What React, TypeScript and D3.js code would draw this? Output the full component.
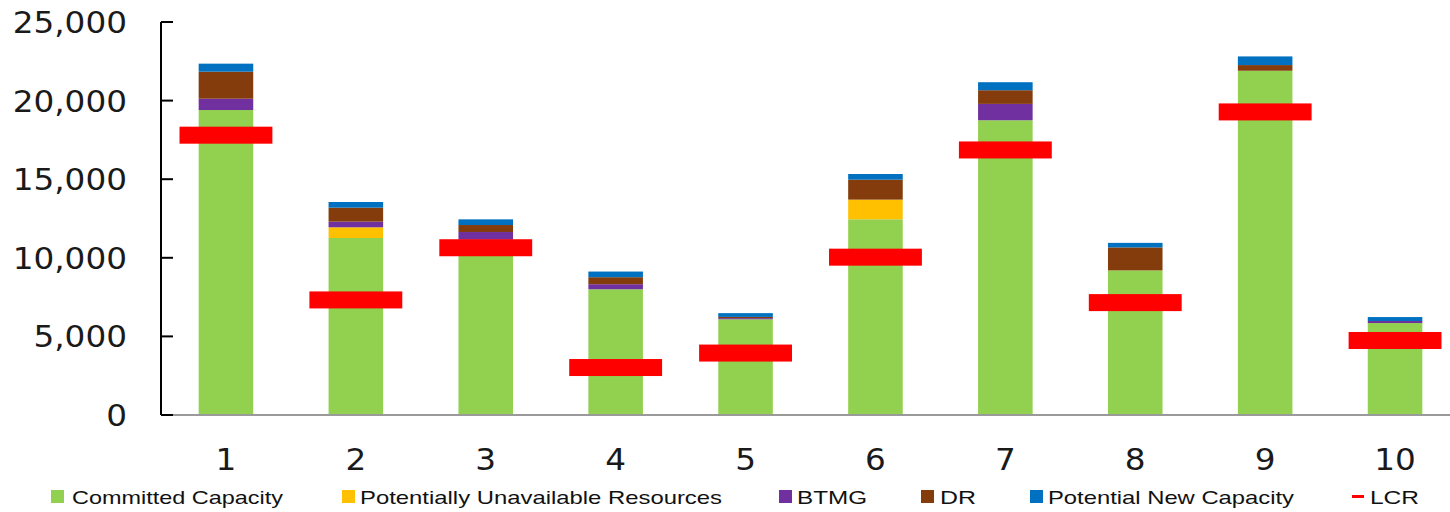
import React from "react";
import * as d3 from "d3";

const categories = ["1", "2", "3", "4", "5", "6", "7", "8", "9", "10"];
const committed = [19400, 11260, 11150, 8000, 6090, 12450, 18750, 9200, 21900, 5850];
const unavailable = [0, 680, 0, 0, 0, 1250, 0, 0, 0, 0];
const btmg = [720, 360, 490, 320, 70, 0, 1040, 0, 0, 130];
const dr = [1720, 890, 445, 445, 80, 1270, 870, 1460, 360, 0];
const newCap = [510, 360, 360, 360, 240, 360, 510, 290, 550, 250];
const lcr = [17800, 7320, 10640, 3020, 3940, 10040, 16860, 7150, 19280, 4740];
const yTicks = [0, 5000, 10000, 15000, 20000, 25000];

const seriesNames = ["Committed Capacity", "Potentially Unavailable Resources", "BTMG", "DR", "Potential New Capacity"];
const seriesColors = ["#92D050", "#FFC000", "#7030A0", "#843C0C", "#0070C0"];
const seriesKeys = ["committed", "unavailable", "btmg", "dr", "newCap"];
const lcrColor = "#FF0000";

const W = 1450, H = 512;

export default function App() {
  const x = d3.scaleBand<string>().domain(categories).range([161, 1460]).padding(0);
  const y = d3.scaleLinear().domain([0, 25000]).range([415, 22]);
  const rows = categories.map((c, i) => ({
    cat: c,
    committed: committed[i],
    unavailable: unavailable[i],
    btmg: btmg[i],
    dr: dr[i],
    newCap: newCap[i],
  }));
  const stacked = d3.stack<any>().keys(seriesKeys)(rows);
  const step = x.step();
  const barW = step * 0.42;
  const lcrW = step * 0.715;
  const fmt = d3.format(",");
  const sx = 1.09;

  const legendItems = [
    { sx: 51, tx: 72, tw: 211, label: seriesNames[0], color: seriesColors[0], dash: false },
    { sx: 342, tx: 360, tw: 362, label: seriesNames[1], color: seriesColors[1], dash: false },
    { sx: 779, tx: 797, tw: 70, label: seriesNames[2], color: seriesColors[2], dash: false },
    { sx: 921, tx: 940, tw: 36, label: seriesNames[3], color: seriesColors[3], dash: false },
    { sx: 1030, tx: 1048, tw: 246, label: seriesNames[4], color: seriesColors[4], dash: false },
    { sx: 1352, tx: 1370, tw: 49, label: "LCR", color: lcrColor, dash: true },
  ];

  return (
    <svg width={W} height={H} style={{ position: "absolute", left: 0, top: 0, background: "#fff" }}>
      {stacked.map((s, si) => (
        <g key={si} fill={seriesColors[si]}>
          {s.map((d, i) =>
            d[1] - d[0] > 0 ? (
              <rect
                key={i}
                x={(x(categories[i]) as number) + step / 2 - barW / 2}
                y={y(d[1])}
                width={barW}
                height={y(d[0]) - y(d[1])}
              />
            ) : null
          )}
        </g>
      ))}
      {lcr.map((v, i) => (
        <rect
          key={i}
          x={(x(categories[i]) as number) + step / 2 - lcrW / 2}
          y={y(v) - 8.5}
          width={lcrW}
          height={17}
          fill={lcrColor}
        />
      ))}
      {/* axes */}
      <line x1={161} x2={1450} y1={y(0)} y2={y(0)} stroke="#9a9a9a" strokeWidth={2} />
      <line x1={161} x2={161} y1={y(25000)} y2={y(0)} stroke="#000" strokeWidth={2} />
      {yTicks.map((t) => (
        <g key={t}>
          <line x1={161} x2={173} y1={y(t)} y2={y(t)} stroke="#000" strokeWidth={2} />
          <g transform={`translate(127,${y(t) + 11}) scale(${sx},1)`}>
            <text
              x={0}
              y={0}
              textAnchor="end"
              fontFamily="DejaVu Sans, Verdana, sans-serif"
              fontSize={30}
              fill="#1a1a1a"
            >
              {fmt(t)}
            </text>
          </g>
        </g>
      ))}
      {categories.map((c) => (
        <g key={c} transform={`translate(${(x(c) as number) + step / 2},470) scale(${sx},1)`}>
          <text
            x={0}
            y={0}
            textAnchor="middle"
            fontFamily="DejaVu Sans, Verdana, sans-serif"
            fontSize={30}
            fill="#1a1a1a"
          >
            {c}
          </text>
        </g>
      ))}
      {legendItems.map((it, i) => (
        <g key={i}>
          {it.dash ? (
            <rect x={it.sx} y={495} width={12} height={3} fill={it.color} />
          ) : (
            <rect x={it.sx} y={490} width={13} height={13} fill={it.color} />
          )}
          <text
            x={it.tx}
            y={504}
            fontFamily="Liberation Sans, Arial, sans-serif"
            fontSize={19}
            textLength={it.tw}
            lengthAdjust="spacingAndGlyphs"
            fill="#111"
          >
            {it.label}
          </text>
        </g>
      ))}
    </svg>
  );
}
